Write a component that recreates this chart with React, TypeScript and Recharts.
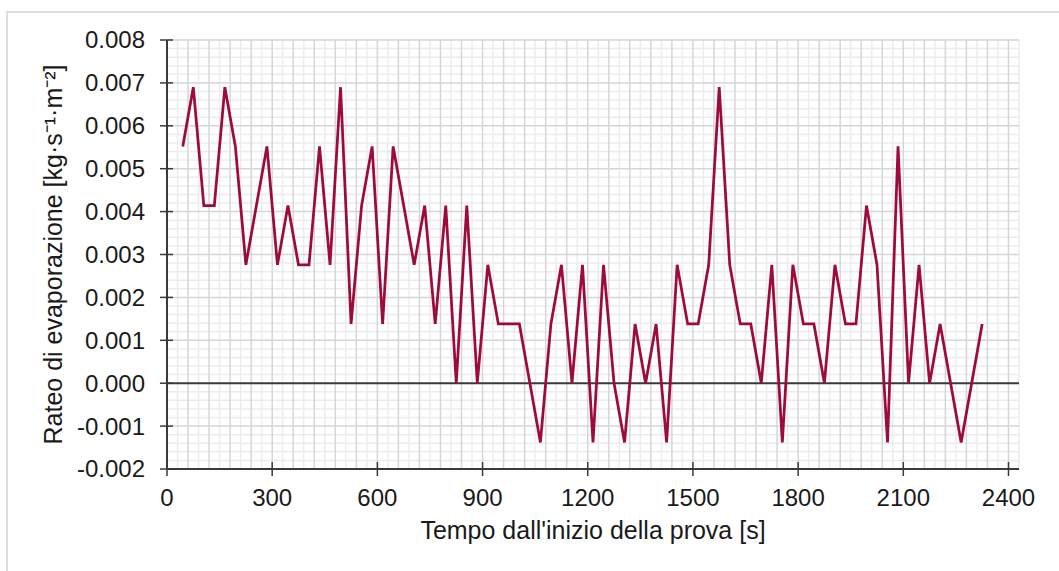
import React from 'react';
import { LineChart, Line, XAxis, YAxis, ReferenceLine } from 'recharts';

// Sampling instants of the test [s]
const times = [
  45, 75, 105, 135, 165, 195, 225, 255, 285, 315,
  345, 375, 405, 435, 465, 495, 525, 555, 585, 615,
  645, 675, 705, 735, 765, 795, 825, 855, 885, 915,
  945, 975, 1005, 1035, 1065, 1095, 1125, 1155, 1185, 1215,
  1245, 1275, 1305, 1335, 1365, 1395, 1425, 1455, 1485, 1515,
  1545, 1575, 1605, 1635, 1665, 1695, 1725, 1755, 1785, 1815,
  1845, 1875, 1905, 1935, 1965, 1995, 2025, 2055, 2085, 2115,
  2145, 2175, 2205, 2235, 2265, 2295, 2325,
];

// Evaporation rate [kg·s⁻¹·m⁻²]
const rates = [
  0.00552, 0.0069, 0.00414, 0.00414, 0.0069, 0.00552, 0.00276, 0.00414, 0.00552, 0.00276,
  0.00414, 0.00276, 0.00276, 0.00552, 0.00276, 0.0069, 0.00138, 0.00414, 0.00552, 0.00138,
  0.00552, 0.00414, 0.00276, 0.00414, 0.00138, 0.00414, 0, 0.00414, 0, 0.00276,
  0.00138, 0.00138, 0.00138, 0, -0.00138, 0.00138, 0.00276, 0, 0.00276, -0.00138,
  0.00276, 0, -0.00138, 0.00138, 0, 0.00138, -0.00138, 0.00276, 0.00138, 0.00138,
  0.00276, 0.0069, 0.00276, 0.00138, 0.00138, 0, 0.00276, -0.00138, 0.00276, 0.00138,
  0.00138, 0, 0.00276, 0.00138, 0.00138, 0.00414, 0.00276, -0.00138, 0.00552, 0,
  0.00276, 0, 0.00138, 0, -0.00138, 0, 0.00138,
];

const xTicks = [0, 300, 600, 900, 1200, 1500, 1800, 2100, 2400];
const yTicks = [-0.002, -0.001, 0, 0.001, 0.002, 0.003, 0.004, 0.005, 0.006, 0.007, 0.008];

const rows = times.map((t, i) => ({ t, rate: rates[i] }));

// graph-paper style grid: majors every 60 s / 0.001, minors every 30 s / 0.0002
const xMajorGrid = Array.from({ length: 40 }, (_, i) => (i + 1) * 60);
const xMinorGrid = Array.from({ length: 41 }, (_, i) => 30 + i * 60);
const yMajorGrid = yTicks.filter((v) => v !== 0 && v !== -0.002);
const yMinorGrid = Array.from({ length: 51 }, (_, i) => i)
  .filter((i) => i % 5 !== 0)
  .map((i) => (-20 + 2 * i) / 10000);

const FONT = '"Liberation Sans", Arial, sans-serif';
const AXIS = '#3a3a3a';
const TEXT = '#1a1a1a';

const XTick = (props: any) => {
  const { x, y, payload } = props;
  return (
    <g>
      <line x1={x} x2={x} y1={y - 7} y2={y + 7} stroke={AXIS} strokeWidth={1.5} />
      <text x={x} y={y + 37} textAnchor="middle" fontSize={24} fill={TEXT} fontFamily={FONT}>
        {payload.value}
      </text>
    </g>
  );
};

const YTick = (props: any) => {
  const { x, y, payload } = props;
  return (
    <g>
      <line x1={x - 7} x2={x + 6} y1={y} y2={y} stroke={AXIS} strokeWidth={1.5} />
      <text x={x - 22} y={y} dy="0.35em" textAnchor="end" fontSize={24} fill={TEXT} fontFamily={FONT}>
        {Number(payload.value).toFixed(3)}
      </text>
    </g>
  );
};

const XTitle = (props: any) => {
  const vb = props.viewBox;
  return (
    <text x={vb.x + vb.width / 2} y={vb.y + 70} textAnchor="middle" fontSize={25} fill={TEXT} fontFamily={FONT}>
      Tempo dall'inizio della prova [s]
    </text>
  );
};

const YTitle = (props: any) => {
  const vb = props.viewBox;
  const cx = vb.x + 62;
  const cy = vb.y + vb.height / 2;
  return (
    <text
      x={cx}
      y={cy}
      transform={`rotate(-90, ${cx}, ${cy})`}
      textAnchor="middle"
      fontSize={25}
      fill={TEXT}
      fontFamily={FONT}
    >
      Rateo di evaporazione [kg·s⁻¹·m⁻²]
    </text>
  );
};

export default function App() {
  return (
    <div style={{ position: 'absolute', left: 0, top: 0, width: 1059, height: 571, background: '#fff' }}>
      <div
        style={{
          position: 'absolute',
          left: 6,
          top: 11,
          right: -10,
          bottom: -10,
          borderLeft: '2px solid #dedede',
          borderTop: '2px solid #dedede',
        }}
      />
      <div style={{ position: 'absolute', left: 0, top: 0 }}>
        <LineChart width={1059} height={571} data={rows} margin={{ top: 40, right: 40, bottom: 0, left: 0 }}>
          {xMinorGrid.map((v) => (
            <ReferenceLine key={`xm${v}`} x={v} stroke="#ececec" strokeWidth={1.5} />
          ))}
          {yMinorGrid.map((v) => (
            <ReferenceLine key={`ym${v}`} y={v} stroke="#ececec" strokeWidth={1.5} />
          ))}
          {xMajorGrid.map((v) => (
            <ReferenceLine key={`xM${v}`} x={v} stroke="#d6d6d6" strokeWidth={1.5} />
          ))}
          {yMajorGrid.map((v) => (
            <ReferenceLine key={`yM${v}`} y={v} stroke="#d6d6d6" strokeWidth={1.5} />
          ))}
          <ReferenceLine y={0} stroke={AXIS} strokeWidth={2} />
          <XAxis
            type="number"
            dataKey="t"
            domain={[0, 2430]}
            ticks={xTicks}
            interval={0}
            allowDataOverflow
            height={102}
            tickSize={0}
            tickMargin={0}
            tickLine={false}
            tick={XTick}
            axisLine={{ stroke: AXIS, strokeWidth: 2 }}
            label={XTitle}
          />
          <YAxis
            type="number"
            domain={[-0.002, 0.008]}
            ticks={yTicks}
            interval={0}
            allowDataOverflow
            width={167}
            tickSize={0}
            tickMargin={0}
            tickLine={false}
            tick={YTick}
            axisLine={{ stroke: AXIS, strokeWidth: 2 }}
            label={YTitle}
          />
          <Line
            type="linear"
            dataKey="rate"
            stroke="#9e0a3d"
            strokeWidth={2.75}
            dot={false}
            activeDot={false}
            isAnimationActive={false}
          />
        </LineChart>
      </div>
    </div>
  );
}
